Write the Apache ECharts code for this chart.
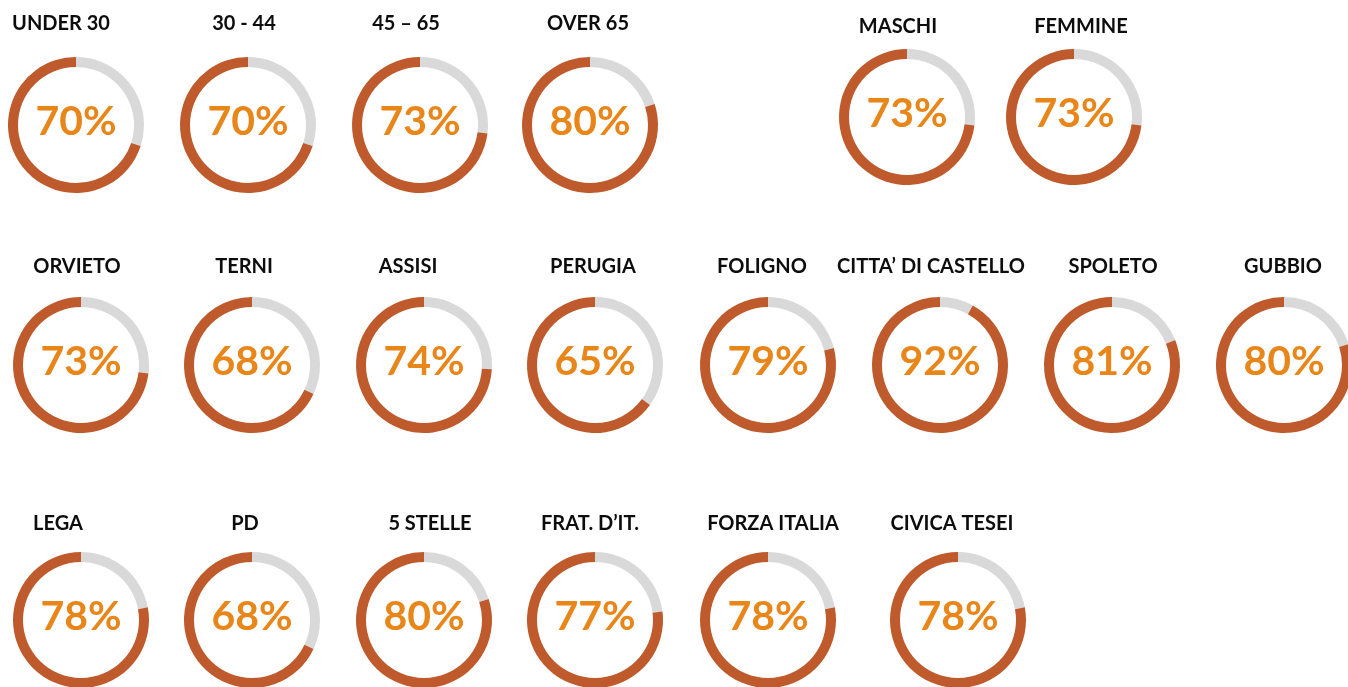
<!DOCTYPE html>
<html>
<head>
<meta charset="utf-8">
<script src="https://cdn.jsdelivr.net/npm/echarts@6/dist/echarts.min.js"></script>
<style>
  html, body { margin: 0; padding: 0; background: #fff; }
  #main { width: 1348px; height: 687px; }
</style>
</head>
<body>
<div id="main"></div>
<script>
// categories and values (percent)
const categories = [
  'UNDER 30', '30 - 44', '45 – 65', 'OVER 65', 'MASCHI', 'FEMMINE',
  'ORVIETO', 'TERNI', 'ASSISI', 'PERUGIA', 'FOLIGNO', 'CITTA’ DI CASTELLO', 'SPOLETO', 'GUBBIO',
  'LEGA', 'PD', '5 STELLE', 'FRAT. D’IT.', 'FORZA ITALIA', 'CIVICA TESEI'
];
const values = [
  70, 70, 73, 80, 73, 73,
  73, 68, 74, 65, 79, 92, 81, 80,
  78, 68, 80, 77, 78, 78
];

// layout: ring centers and title positions (pixels)
const ringX = [76, 248, 420, 590, 907, 1074, 81, 252, 424, 595, 768, 940, 1112, 1284, 81, 252, 424, 595, 768, 958];
const ringY = [125, 125, 125, 125, 117, 117, 365, 365, 365, 365, 365, 365, 365, 365, 620, 620, 620, 620, 620, 620];
const titleX = [61, 244, 406, 588, 898, 1081, 77, 244, 408, 593, 762, 931, 1113, 1283, 58, 245, 430, 590, 773, 952];
const titleY = [14, 14, 14, 14, 17, 17, 257, 257, 257, 257, 257, 257, 257, 257, 514, 514, 514, 514, 514, 514];

const chart = echarts.init(document.getElementById('main'), null, { renderer: 'canvas' });

const titles = categories.map((c, i) => ({
  text: c,
  left: titleX[i],
  top: titleY[i],
  padding: 0,
  textAlign: 'center',
  textStyle: { fontFamily: 'Lato', fontWeight: 'bold', fontSize: 20, color: '#0d0d0d' }
}));

const series = categories.map((c, i) => ({
  type: 'pie',
  center: [ringX[i], ringY[i]],
  radius: [58, 68],
  startAngle: 90,
  clockwise: true,
  silent: true,
  avoidLabelOverlap: false,
  labelLine: { show: false },
  emphasis: { disabled: true },
  data: [
    { value: 100 - values[i], name: c + ' rest', itemStyle: { color: '#D9D9D9' }, label: { show: false } },
    {
      value: values[i], name: c, itemStyle: { color: '#BE5A2C' },
      label: {
        show: true, position: 'center', formatter: values[i] + '%', offset: [0, -3],
        fontFamily: 'Lato', fontWeight: 'bold', fontSize: 41, color: '#E8861A'
      }
    }
  ]
}));

chart.setOption({
  animation: false,
  title: titles,
  series: series
});
</script>
</body>
</html>
